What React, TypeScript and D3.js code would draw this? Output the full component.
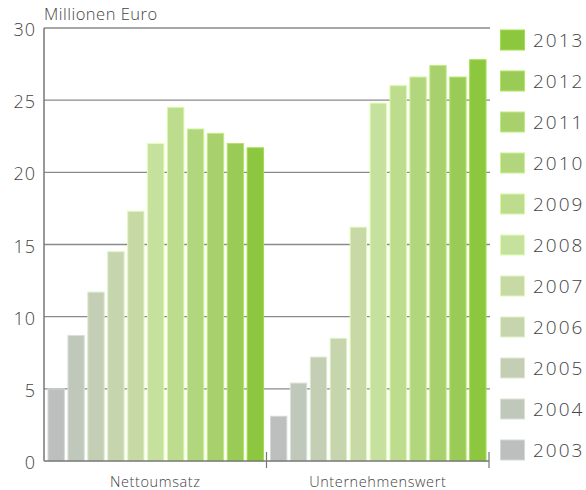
import React from 'react';
import * as d3 from 'd3';

const years = ['2003', '2004', '2005', '2006', '2007', '2008', '2009', '2010', '2011', '2012', '2013'];
const categories = ['Nettoumsatz', 'Unternehmenswert'];
const nettoumsatz = [5.0, 8.7, 11.7, 14.5, 17.3, 22.0, 24.5, 23.0, 22.7, 22.0, 21.7];
const unternehmenswert = [3.1, 5.4, 7.2, 8.5, 16.2, 24.8, 26.0, 26.6, 27.4, 26.6, 27.8];
const yearColors = ['#bcbfbe', '#c0c8bc', '#c3ceb5', '#c6d5ad', '#c7daa5', '#c6e09e', '#bddc8e', '#b2d67e', '#a8d16d', '#9bcb57', '#8dc63f'];
const yTicks = [0, 5, 10, 15, 20, 25, 30];

const seriesByCategory = [nettoumsatz, unternehmenswert];

const width = 586;
const height = 490;
const margin = { left: 44, right: 97, top: 28, bottom: 29 };

const App = () => {
  const x0 = d3.scaleBand<string>()
    .domain(categories)
    .range([margin.left, width - margin.right]);
  const x1 = d3.scaleBand<string>()
    .domain(years)
    .range([4, x0.bandwidth() - 3])
    .paddingInner(0.18);
  const y = d3.scaleLinear()
    .domain([0, 30])
    .range([height - margin.bottom, margin.top]);
  const color = d3.scaleOrdinal<string, string>().domain(years).range(yearColors);

  const legendY = d3.scalePoint<string>()
    .domain(years.slice().reverse())
    .range([40, 450]);

  const font = "'Open Sans', sans-serif";
  const textColor = '#444';

  return (
    <svg width={width} height={height} style={{ position: 'absolute', left: 0, top: 0 }}>
      <rect width={width} height={height} fill="#fff" />

      {/* grid */}
      {yTicks.filter(t => t > 0).map(t => (
        <line key={'g' + t} x1={margin.left} x2={width - margin.right + 1} y1={y(t)} y2={y(t)}
          stroke="#8a8a8a" strokeWidth={1.3} />
      ))}

      {/* bars */}
      {categories.map((c, ci) => (
        <g key={c} transform={`translate(${x0(c)},0)`}>
          {seriesByCategory[ci].map((v, i) => {
            const col = color(years[i]);
            return (
              <rect key={years[i]} x={x1(years[i])} y={y(v)} width={x1.bandwidth()} height={y(0) - y(v)}
                fill={col} stroke={d3.color(col)!.brighter(0.35).formatHex()} strokeWidth={1} />
            );
          })}
        </g>
      ))}

      {/* axes */}
      <line x1={margin.left} x2={margin.left} y1={y(30)} y2={y(0)} stroke="#777" strokeWidth={1.5} />
      <line x1={margin.left} x2={width - margin.right} y1={y(0)} y2={y(0)} stroke="#777" strokeWidth={1.5} />
      {[x0(categories[1])!, width - margin.right].map((px, i) => (
        <line key={'t' + i} x1={px} x2={px} y1={y(0) - 9} y2={y(0) + 7} stroke="#777" strokeWidth={1.2} />
      ))}

      {yTicks.map(t => (
        <text key={'y' + t} x={36} y={y(t) + 8} textAnchor="end" fontFamily={font} fontWeight={300} fontSize={18}
          letterSpacing={1} fill={textColor}>{t}</text>
      ))}

      {categories.map(c => (
        <text key={'c' + c} x={x0(c)! + x0.bandwidth() / 2} y={487} textAnchor="middle" fontFamily={font}
          fontWeight={300} fontSize={14.5} letterSpacing={0.6} fill={textColor}>{c}</text>
      ))}

      <text x={44} y={20} fontFamily={font} fontWeight={300} fontSize={16.5} letterSpacing={0.5}
        fill={textColor}>Millionen Euro</text>

      {/* legend */}
      {years.map(yr => (
        <g key={'l' + yr} transform={`translate(500,${legendY(yr)})`}>
          <rect x={0.5} y={-10} width={24} height={20} fill={color(yr)}
            stroke={d3.color(color(yr))!.brighter(0.35).formatHex()} strokeWidth={1} />
          <text x={33} y={7} fontFamily={font} fontWeight={300} fontSize={19} letterSpacing={2}
            fill={textColor}>{yr}</text>
        </g>
      ))}
    </svg>
  );
};

export default App;
